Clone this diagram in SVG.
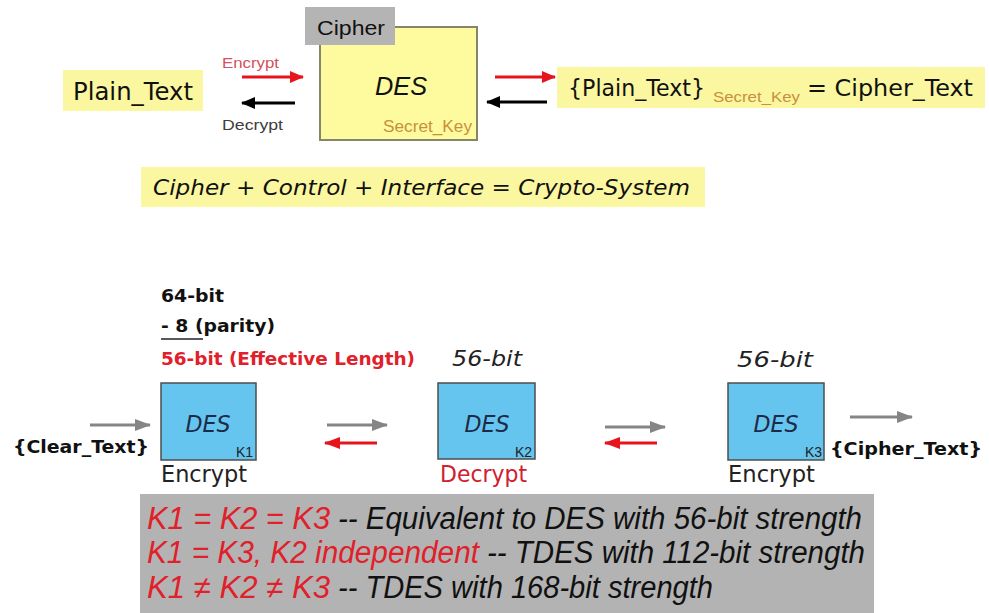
<svg xmlns="http://www.w3.org/2000/svg" width="989" height="613" viewBox="0 0 989 613">
<style>
.hl{fill:#fbf7a0}
.des{fill:#66c5ef;stroke:#4d4d4d;stroke-width:1.5}
.sans{font-family:"Liberation Sans",Arial,sans-serif}
.dv{font-family:"DejaVu Sans",Verdana,sans-serif}
.it{font-style:italic}
.bold{font-weight:bold}
.red{fill:#e0202a}
.key{fill:#c8903c}
</style>
<defs>
<marker id="hRed" markerUnits="userSpaceOnUse" markerWidth="14" markerHeight="12" refX="13" refY="6" orient="auto"><path d="M0,0 L14,6 L0,12 Z" fill="#e8141c"/></marker>
<marker id="hBlack" markerUnits="userSpaceOnUse" markerWidth="14" markerHeight="12" refX="13" refY="6" orient="auto"><path d="M0,0 L14,6 L0,12 Z" fill="#000"/></marker>
<marker id="hGray" markerUnits="userSpaceOnUse" markerWidth="16" markerHeight="12" refX="15" refY="6" orient="auto"><path d="M0,0 L16,6 L0,12 Z" fill="#858585"/></marker>
<marker id="hRed2" markerUnits="userSpaceOnUse" markerWidth="16" markerHeight="12" refX="15" refY="6" orient="auto"><path d="M0,0 L16,6 L0,12 Z" fill="#e8141c"/></marker>
</defs>
<rect width="989" height="613" fill="#fff"/>

<g id="plain-text">
<rect class="hl" x="63" y="70" width="140" height="41"/>
<text class="dv" x="73" y="100" font-size="24" fill="#111" textLength="120" lengthAdjust="spacingAndGlyphs">Plain_Text</text>
</g>

<g id="cipher-des">
<rect x="320" y="27" width="157" height="113" fill="#fdfb9e" stroke="#85856a" stroke-width="2"/>
<rect x="305" y="7" width="90" height="38" fill="#b4b4b4"/>
<text class="sans" x="317" y="35" font-size="21" fill="#111" textLength="68" lengthAdjust="spacingAndGlyphs">Cipher</text>
<text class="sans it" x="375" y="95" font-size="26" fill="#111" textLength="52" lengthAdjust="spacingAndGlyphs">DES</text>
<text class="sans key" x="383" y="132" font-size="16" textLength="89" lengthAdjust="spacingAndGlyphs">Secret_Key</text>
</g>

<g id="cipher-text-eq">
<rect class="hl" x="557" y="67" width="428" height="41"/>
<text class="dv" x="568" y="96" font-size="23" fill="#111" textLength="137" lengthAdjust="spacingAndGlyphs">{Plain_Text}</text>
<text class="sans key" x="713" y="102" font-size="15" textLength="87" lengthAdjust="spacingAndGlyphs">Secret_Key</text>
<text class="dv" x="807" y="96" font-size="23" fill="#111" textLength="166" lengthAdjust="spacingAndGlyphs">= Cipher_Text</text>
</g>

<g id="crypto-system">
<rect class="hl" x="141" y="167" width="564" height="40"/>
<text class="dv it" x="153" y="195" font-size="21" fill="#111" textLength="537" lengthAdjust="spacingAndGlyphs">Cipher + Control + Interface = Crypto-System</text>
</g>

<g id="labels-top">
<text class="sans" x="222" y="68" font-size="15" fill="#d4505c" textLength="57" lengthAdjust="spacingAndGlyphs">Encrypt</text>
<text class="sans" x="222" y="130" font-size="15" fill="#3c3c3c" textLength="61" lengthAdjust="spacingAndGlyphs">Decrypt</text>
</g>

<g id="key-length">
<text class="dv bold" x="161" y="302" font-size="18" fill="#111" textLength="63" lengthAdjust="spacingAndGlyphs">64-bit</text>
<text class="dv bold" x="161" y="332" font-size="18" fill="#111" textLength="114" lengthAdjust="spacingAndGlyphs">- 8 (parity)</text>
<line x1="161" y1="339" x2="203" y2="339" stroke="#222" stroke-width="1.5"/>
<text class="dv bold red" x="161" y="365" font-size="18" textLength="254" lengthAdjust="spacingAndGlyphs">56-bit (Effective Length)</text>
</g>

<g id="clear-text">
<text class="dv bold" x="13" y="453" font-size="17" fill="#111" textLength="136" lengthAdjust="spacingAndGlyphs">{Clear_Text}</text>
</g>

<g id="des1">
<rect class="des" x="161" y="383" width="95" height="77"/>
<text class="dv it" x="208" y="432" font-size="23" fill="#1c2a48" text-anchor="middle" textLength="45" lengthAdjust="spacingAndGlyphs">DES</text>
<text class="sans" x="253" y="457" font-size="14" fill="#222" text-anchor="end">K1</text>
<text class="dv" x="161" y="482" font-size="23" fill="#222" textLength="86" lengthAdjust="spacingAndGlyphs">Encrypt</text>
</g>

<g id="des2">
<text class="dv it" x="452" y="366" font-size="22" fill="#222" textLength="70" lengthAdjust="spacingAndGlyphs">56-bit</text>
<rect class="des" x="438" y="383" width="97" height="76"/>
<text class="dv it" x="487" y="432" font-size="23" fill="#1c2a48" text-anchor="middle" textLength="45" lengthAdjust="spacingAndGlyphs">DES</text>
<text class="sans" x="532" y="457" font-size="14" fill="#222" text-anchor="end">K2</text>
<text class="dv" x="440" y="482" font-size="23" fill="#d02030" textLength="87" lengthAdjust="spacingAndGlyphs">Decrypt</text>
</g>

<g id="des3">
<text class="dv it" x="737" y="367" font-size="22" fill="#222" textLength="76" lengthAdjust="spacingAndGlyphs">56-bit</text>
<rect class="des" x="728" y="383" width="96" height="77"/>
<text class="dv it" x="776" y="432" font-size="23" fill="#1c2a48" text-anchor="middle" textLength="45" lengthAdjust="spacingAndGlyphs">DES</text>
<text class="sans" x="822" y="457" font-size="14" fill="#222" text-anchor="end">K3</text>
<text class="dv" x="728" y="482" font-size="23" fill="#222" textLength="87" lengthAdjust="spacingAndGlyphs">Encrypt</text>
</g>

<g id="cipher-text-out">
<text class="dv bold" x="830" y="455" font-size="17" fill="#111" textLength="152" lengthAdjust="spacingAndGlyphs">{Cipher_Text}</text>
</g>

<g id="strength-panel">
<rect x="140" y="494" width="734" height="119" fill="#b3b3b3"/>
<text class="sans it red" x="147" y="529" font-size="31" textLength="183" lengthAdjust="spacingAndGlyphs">K1 = K2 = K3</text>
<text class="sans it" x="338" y="529" font-size="31" fill="#111" textLength="524" lengthAdjust="spacingAndGlyphs">-- Equivalent to DES with 56-bit strength</text>
<text class="sans it red" x="147" y="563" font-size="31" textLength="332" lengthAdjust="spacingAndGlyphs">K1 = K3, K2 independent</text>
<text class="sans it" x="487" y="563" font-size="31" fill="#111" textLength="378" lengthAdjust="spacingAndGlyphs">-- TDES with 112-bit strength</text>
<text class="sans it red" x="147" y="598" font-size="31" textLength="183" lengthAdjust="spacingAndGlyphs">K1 ≠ K2 ≠ K3</text>
<text class="sans it" x="338" y="598" font-size="31" fill="#111" textLength="375" lengthAdjust="spacingAndGlyphs">-- TDES with 168-bit strength</text>
</g>

<g id="connectors" fill="none" stroke-width="3">
<line x1="242" y1="77" x2="303" y2="77" stroke="#e8141c" marker-end="url(#hRed)"/>
<line x1="295" y1="103" x2="242" y2="103" stroke="#000" marker-end="url(#hBlack)"/>
<line x1="495" y1="77" x2="555" y2="77" stroke="#e8141c" marker-end="url(#hRed)"/>
<line x1="547" y1="102" x2="487" y2="102" stroke="#000" marker-end="url(#hBlack)"/>
<line x1="90" y1="425" x2="150" y2="425" stroke="#858585" marker-end="url(#hGray)"/>
<line x1="327" y1="425" x2="387" y2="425" stroke="#858585" marker-end="url(#hGray)"/>
<line x1="377" y1="443" x2="325" y2="443" stroke="#e8141c" marker-end="url(#hRed2)"/>
<line x1="605" y1="427" x2="665" y2="427" stroke="#858585" marker-end="url(#hGray)"/>
<line x1="657" y1="443" x2="605" y2="443" stroke="#e8141c" marker-end="url(#hRed2)"/>
<line x1="850" y1="417" x2="912" y2="417" stroke="#858585" marker-end="url(#hGray)"/>
</g>
</svg>
